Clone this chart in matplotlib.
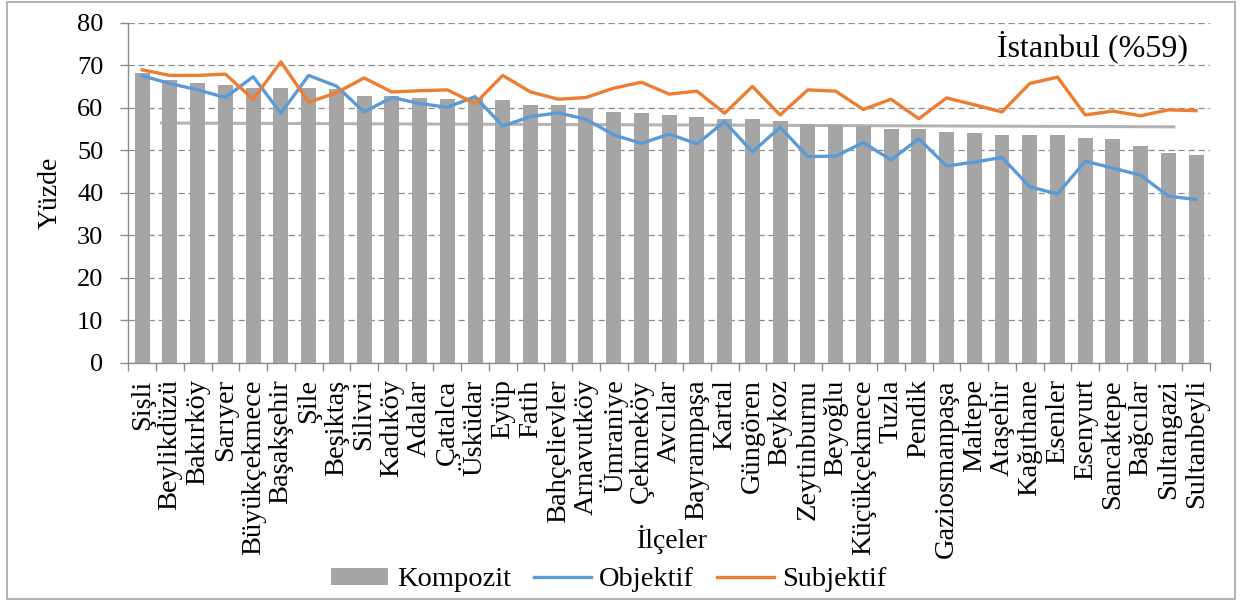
import matplotlib.pyplot as plt
import numpy as np
from matplotlib.lines import Line2D
from matplotlib.patches import Patch, Rectangle

plt.rcParams["font.family"] = ["Liberation Serif", "DejaVu Serif"]

ilceler = [
    "Şişli", "Beylikdüzü", "Bakırköy", "Sarıyer", "Büyükçekmece", "Başakşehir",
    "Şile", "Beşiktaş", "Silivri", "Kadıköy", "Adalar", "Çatalca", "Üsküdar",
    "Eyüp", "Fatih", "Bahçelievler", "Arnavutköy", "Ümraniye", "Çekmeköy",
    "Avcılar", "Bayrampaşa", "Kartal", "Güngören", "Beykoz", "Zeytinburnu",
    "Beyoğlu", "Küçükçekmece", "Tuzla", "Pendik", "Gaziosmanpaşa", "Maltepe",
    "Ataşehir", "Kağıthane", "Esenler", "Esenyurt", "Sancaktepe", "Bağcılar",
    "Sultangazi", "Sultanbeyli",
]

kompozit = [
    68.1, 66.5, 65.9, 65.3, 64.6, 64.6, 64.6, 64.3, 62.7, 62.7, 62.4, 62.1, 62.2,
    61.8, 60.6, 60.6, 59.9, 59.0, 58.7, 58.4, 57.7, 57.4, 57.4, 56.8, 56.2,
    55.9, 55.7, 55.1, 55.1, 54.4, 54.1, 53.5, 53.5, 53.5, 52.9, 52.6, 51.0,
    49.4, 48.8,
]

objektif = [
    67.5, 65.7, 64.2, 62.4, 67.3, 58.7, 67.6, 65.1, 59.0, 62.4, 61.0, 60.1, 62.6,
    55.7, 57.9, 58.8, 57.3, 53.6, 51.6, 53.8, 51.5, 56.7, 49.6, 55.4, 48.5,
    48.6, 51.8, 47.7, 52.7, 46.3, 47.2, 48.3, 41.4, 39.7, 47.4, 45.8, 44.1,
    39.2, 38.4,
]

subjektif = [
    68.9, 67.6, 67.6, 67.9, 62.0, 70.8, 61.3, 63.5, 67.0, 63.7, 64.0, 64.2, 61.0,
    67.6, 63.7, 62.0, 62.4, 64.6, 66.0, 63.2, 63.9, 58.7, 65.0, 58.3, 64.2,
    63.9, 59.6, 62.0, 57.4, 62.3, 60.7, 59.0, 65.7, 67.2, 58.3, 59.2, 58.1,
    59.5, 59.3,
]

# hand-drawn Istanbul reference line (category position, value)
istanbul_x = [0.7, 37.2]
istanbul_y = [56.4, 55.5]

x = np.arange(len(ilceler))

fig = plt.figure(figsize=(12.45, 6.01), dpi=100)
ax = fig.add_axes([0.1031, 0.3965, 0.8688, 0.5657])

ax.plot(istanbul_x, istanbul_y, color="#b3b3b3", linewidth=2.2, zorder=1)
ax.bar(x, kompozit, width=0.54, color="#a5a5a5", zorder=2)
ax.plot(x, objektif, color="#5b9bd5", linewidth=2.4, zorder=3)
ax.plot(x, subjektif, color="#ed7d31", linewidth=2.4, zorder=3)

ax.set_xlim(-0.5, len(ilceler) - 0.5)
ax.set_ylim(0, 80)
ax.set_yticks(np.arange(0, 81, 10))
ax.yaxis.grid(True, color="#8c8c8c", linestyle=(0, (5, 3)), linewidth=0.9)
ax.set_axisbelow(True)

ax.set_xticks(x)
ax.set_xticklabels(ilceler, rotation=90, va="top", ha="center", fontsize=20.5)
ax.set_xticks(np.arange(-0.5, len(ilceler)), minor=True)
ax.tick_params(axis="x", which="major", length=0, pad=12)
ax.tick_params(axis="x", which="minor", length=6, color="#8c8c8c", width=1)
ax.tick_params(axis="y", length=6, color="#8c8c8c", width=1, labelsize=19, pad=12)

for side in ["top", "right"]:
    ax.spines[side].set_visible(False)
for side in ["left", "bottom"]:
    ax.spines[side].set_color("#8c8c8c")
    ax.spines[side].set_linewidth(1)

ax.set_ylabel("Yüzde", fontsize=20, labelpad=10)
fig.text(672 / 1245, 1 - 540 / 601, "İlçeler", fontsize=20, ha="center", va="center")

ax.text(0.98, 0.928, "İstanbul (%59)", transform=ax.transAxes, fontsize=23,
        ha="right", va="center")

handles = [
    Patch(facecolor="#a5a5a5", edgecolor="none"),
    Line2D([], [], color="#5b9bd5", linewidth=2.4),
    Line2D([], [], color="#ed7d31", linewidth=2.4),
]
fig.legend(handles, ["Kompozit", "Objektif", "Subjektif"], loc="center",
           bbox_to_anchor=(609 / 1245, 1 - 580 / 601), ncol=3, frameon=False,
           fontsize=20.5, handlelength=2.0, handleheight=0.55, handletextpad=0.3,
           columnspacing=0.8, borderpad=0)

fig.add_artist(Rectangle((7 / 1245, 2 / 601), 1228 / 1245, 597 / 601,
                         transform=fig.transFigure, fill=False,
                         edgecolor="#a6a6a6", linewidth=1.2))

fig.savefig("out.png", dpi=100)
